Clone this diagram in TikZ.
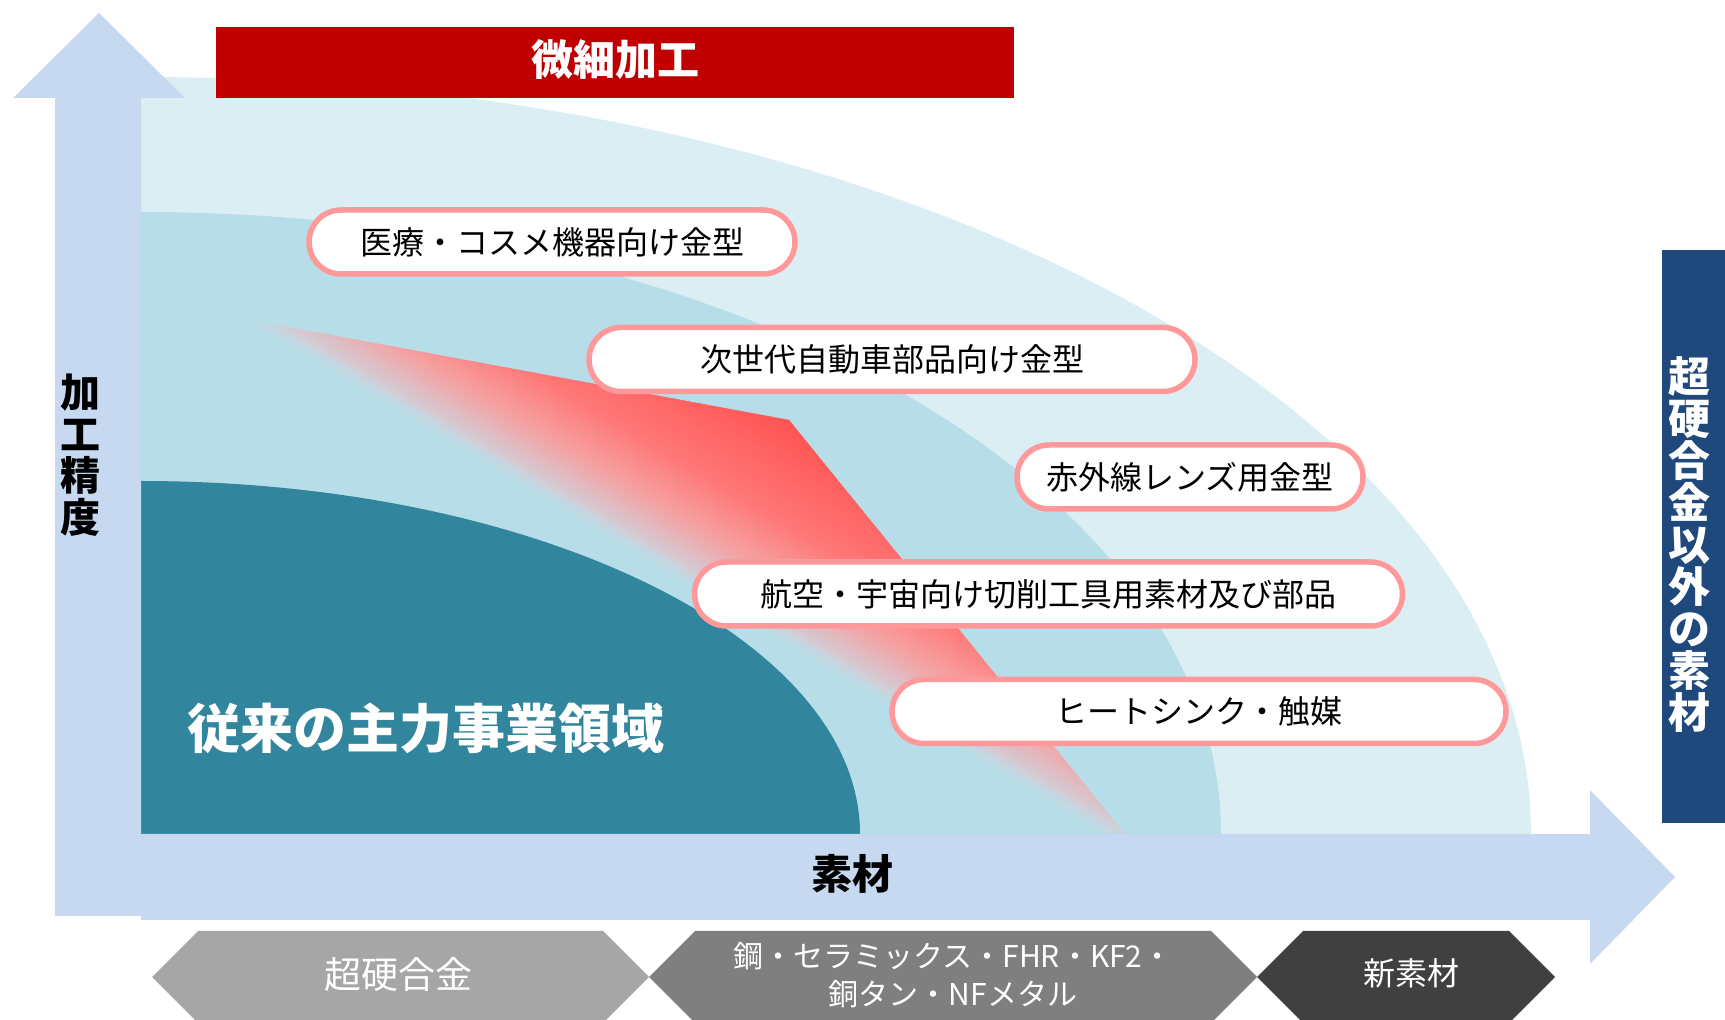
\documentclass[tikz,border=0pt]{standalone}
\usepackage{fontspec}
\setmainfont{Noto Sans CJK JP}
\definecolor{axisblue}{HTML}{C6D9F1}
\definecolor{outerbg}{HTML}{DAEEF3}
\definecolor{midbg}{HTML}{B7DEE8}
\definecolor{coreteal}{HTML}{31859C}
\definecolor{barred}{HTML}{C00000}
\definecolor{navybar}{HTML}{1F497D}
\definecolor{pinkline}{HTML}{FF9999}
\definecolor{hexa}{HTML}{A6A6A6}
\definecolor{hexb}{HTML}{7F7F7F}
\definecolor{hexc}{HTML}{404040}
\begin{document}
\begin{tikzpicture}[x=0.5pt,y=-0.5pt,
  pill/.style={draw=pinkline, line width=2.75pt, fill=white, rounded corners=16pt,
    minimum height=32pt, inner sep=0pt, text=black, font=\fontsize{16}{16}\selectfont},
  hexlabel/.style={text=white, align=center, inner sep=0pt},
  vlabel/.style={align=center, inner sep=0pt, font=\bfseries\fontsize{21}{21}\selectfont}]
\useasboundingbox (0,0) rectangle (1725,1020);
% nested regions (outer two)
\begin{scope}
  \clip (141,0) rectangle (1725,834);
  \fill[outerbg] (141,834) ellipse [x radius=1390, y radius=757];
  \fill[midbg] (141,834) ellipse [x radius=1080, y radius=622];
\end{scope}
% gradient wedge
\begin{scope}
  \clip (218,314) -- (789,420) -- (1125,834) -- (1079,834) -- cycle;
  \foreach \sa/\sb/\ra/\ga/\ba/\rb/\gb/\bb in {
    -162/-148/183/222/232/183/222/232,
    -148/-140/183/222/232/195/215/225,
    -140/-132/195/215/225/212/203/213,
    -132/-91/212/203/213/246/160/160,
    -91/-45/246/160/160/255/120/120,
    -45/50/255/120/120/255/82/82}{
    \pgfmathtruncatemacro\n{max(1,round((\sb-\sa)/2))}
    \foreach \k in {1,...,\n}{
      \pgfmathsetmacro\f{(\k-0.5)/\n}
      \pgfmathtruncatemacro\R{round(\ra+(\rb-\ra)*\f)}
      \pgfmathtruncatemacro\G{round(\ga+(\gb-\ga)*\f)}
      \pgfmathtruncatemacro\B{round(\ba+(\bb-\ba)*\f)}
      \definecolor{gcol}{RGB}{\R,\G,\B}
      \pgfmathsetmacro\su{\sa+(\sb-\sa)*(\k-1)/\n-0.6}
      \pgfmathsetmacro\sv{\sa+(\sb-\sa)*\k/\n+0.6}
      \fill[gcol] ({0.515*\su+0.858*300},{-0.858*\su+0.515*300})
        -- ({0.515*\su+0.858*1500},{-0.858*\su+0.515*1500})
        -- ({0.515*\sv+0.858*1500},{-0.858*\sv+0.515*1500})
        -- ({0.515*\sv+0.858*300},{-0.858*\sv+0.515*300}) -- cycle;
    }
  }
\end{scope}
% core region
\begin{scope}
  \clip (141,0) rectangle (1725,834);
  \fill[coreteal] (141,834) ellipse [x radius=719, y radius=353];
\end{scope}
% axes
\fill[axisblue] (141,834) -- (1590,834) -- (1590,790) -- (1675,877) -- (1590,964)
  -- (1590,920) -- (141,920) -- cycle;
\fill[axisblue] (55,916) -- (55,98) -- (13,98) -- (99,13) -- (185,98) -- (141,98)
  -- (141,916) -- cycle;
% title bar
\fill[barred] (216,27) rectangle (1014,98);
\node[text=white, font=\bfseries\fontsize{21}{21}\selectfont] (title) at (615,60) {微細加工};
% side bar
\fill[navybar] (1662,250) rectangle (1725,823);
\node[vlabel, text=white] (side) at (1689,545) {超\\硬\\合\\金\\以\\外\\の\\素\\材};
% axis labels
\node[vlabel, text=black, font=\bfseries\fontsize{20}{20.75}\selectfont] (ylab) at (81,455) {加\\工\\精\\度};
\node[text=black, font=\bfseries\fontsize{20.5}{20.5}\selectfont] (xlab) at (852,874) {素材};
\node[text=white, font=\bfseries\fontsize{26.5}{26.5}\selectfont] (core) at (426,728) {従来の主力事業領域};
% application boxes
\node[pill, minimum width=243pt] (b1) at (552,242) {医療・コスメ機器向け金型};
\node[pill, minimum width=303pt] (b2) at (892,359.5) {次世代自動車部品向け金型};
\node[pill, minimum width=173pt] (b3) at (1190,477) {赤外線レンズ用金型};
\node[pill, minimum width=354pt] (b4) at (1048.5,594) {航空・宇宙向け切削工具用素材及び部品};
\node[pill, minimum width=307pt] (b5) at (1199,711.5) {ヒートシンク・触媒};
% material chevrons
\fill[hexa] (152,977) -- (198,931) -- (603,931) -- (649,977) -- (603,1023) -- (198,1023) -- cycle;
\fill[hexb] (649,977) -- (695,931) -- (1211,931) -- (1257,977) -- (1211,1023) -- (695,1023) -- cycle;
\fill[hexc] (1257,977) -- (1303,931) -- (1509,931) -- (1555,977) -- (1509,1023) -- (1303,1023) -- cycle;
\node[hexlabel, font=\fontsize{18.5}{18.5}\selectfont] (m1) at (398,974) {超硬合金};
\node[hexlabel, font=\fontsize{15}{19}\selectfont] (m2) at (953,975) {鋼・セラミックス・FHR・KF2・\\銅タン・NFメタル};
\node[hexlabel, font=\fontsize{16}{16}\selectfont] (m3) at (1411,973) {新素材};
\end{tikzpicture}
\end{document}
